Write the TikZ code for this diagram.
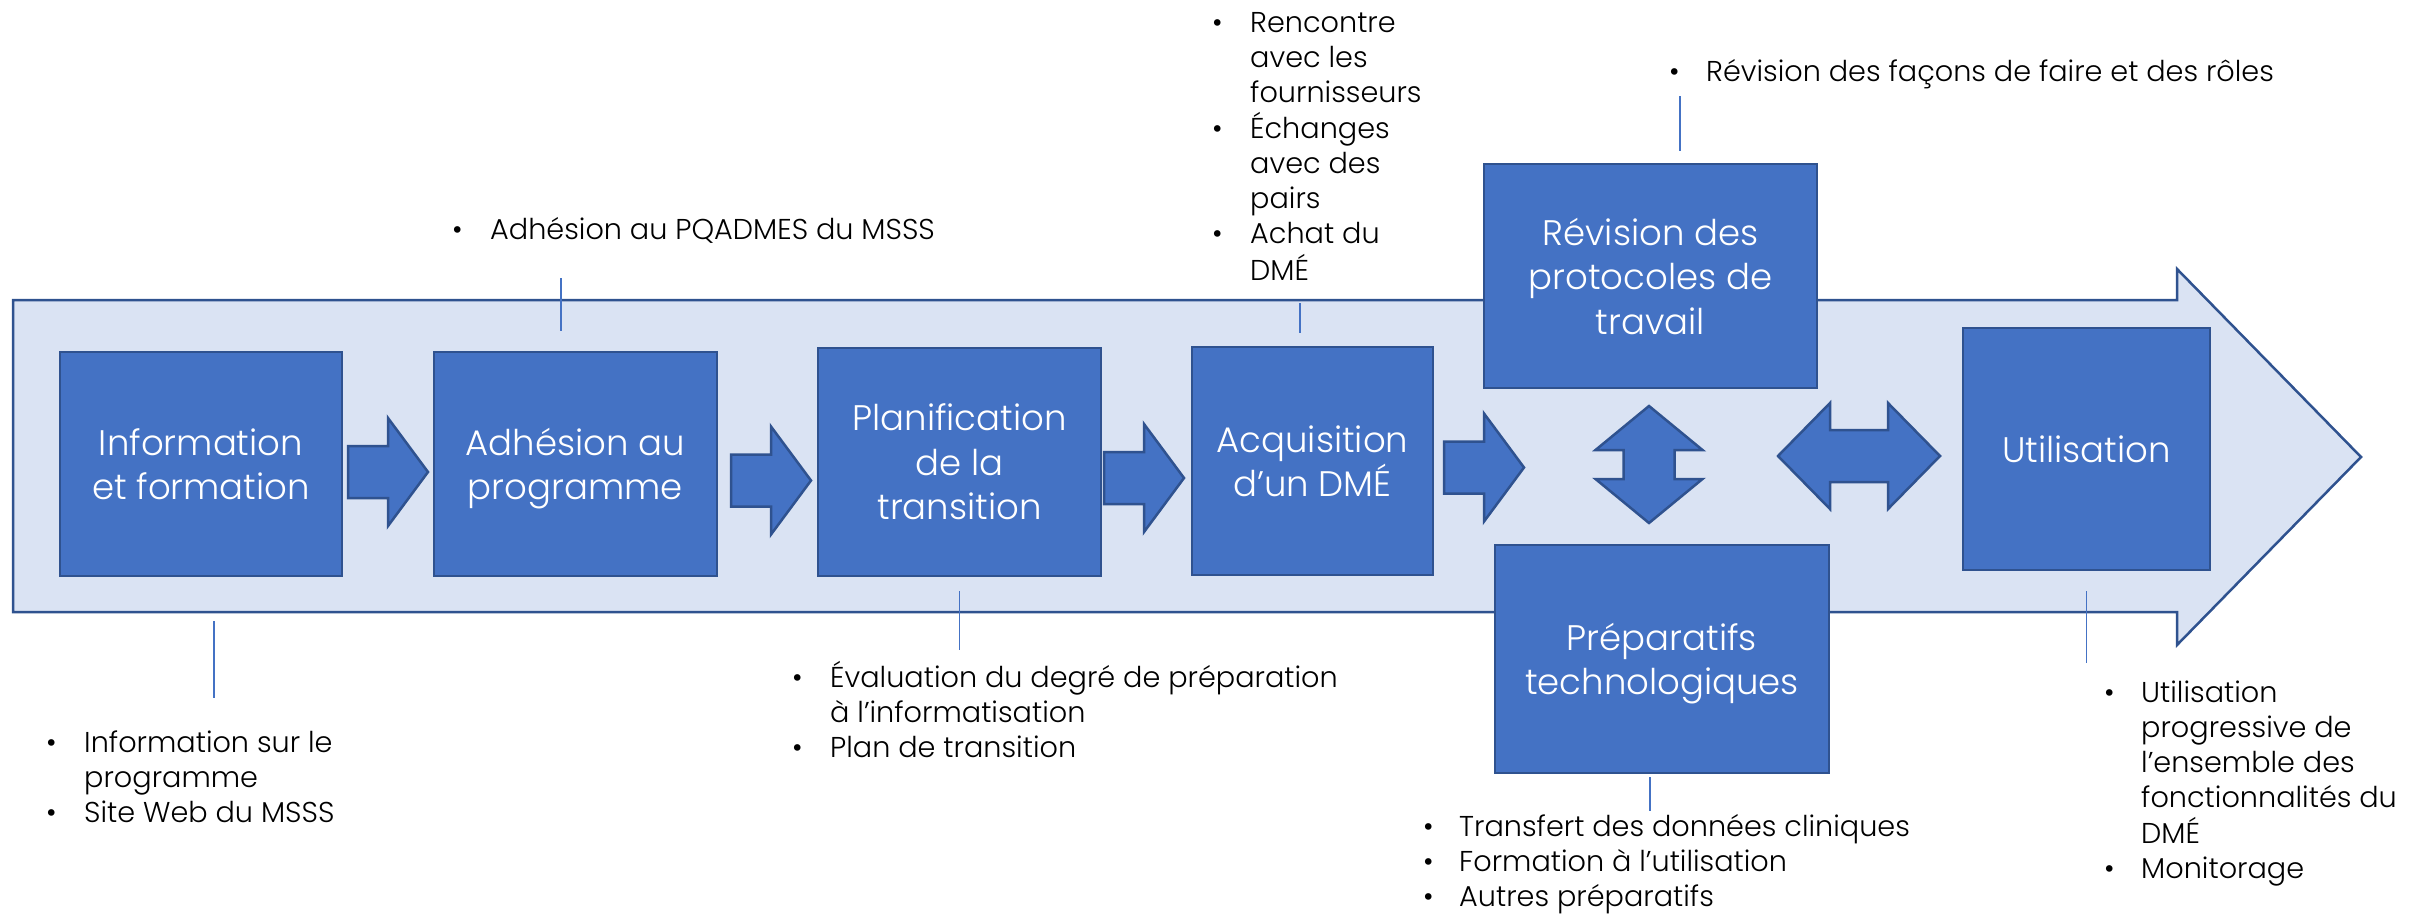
\documentclass[tikz,border=0pt]{standalone}
\usepackage{fontspec}
\setmainfont{Poppins}[UprightFont={* Light}]

\definecolor{boxblue}{HTML}{4472C4}
\definecolor{edgeblue}{HTML}{2F528F}
\definecolor{bandblue}{HTML}{DAE3F3}

\begin{document}
\begin{tikzpicture}[x=1pt, y=-1pt,
  stage/.style = {shape=rectangle, draw=edgeblue, line width=2.5pt,
    fill=boxblue, text=white, align=center, inner sep=0pt, text depth=0pt,
    font=\fontsize{35.5}{44.5}\selectfont},
  note/.style = {anchor=base west, inner sep=0pt,
    font=\fontsize{28.7}{35}\selectfont},
  callout/.style = {draw=boxblue, line width=1.5pt},
  blockarrow/.style = {draw=edgeblue, line width=2.5pt, fill=boxblue},
  fwd/.pic = {\path[blockarrow] (0,-26) -- (40,-26) -- (40,-54) -- (80,0)
    -- (40,54) -- (40,26) -- (0,26) -- cycle;},
  updown/.pic = {\path[blockarrow] (0,-58.5) -- (53.5,-14.5) -- (25.5,-14.5)
    -- (25.5,14.5) -- (53.5,14.5) -- (0,58.5) -- (-53.5,14.5) -- (-25.5,14.5)
    -- (-25.5,-14.5) -- (-53.5,-14.5) -- cycle;},
  leftright/.pic = {\path[blockarrow] (-81,0) -- (-29,-53) -- (-29,-26)
    -- (29,-26) -- (29,-53) -- (81,0) -- (29,53) -- (29,26) -- (-29,26)
    -- (-29,53) -- cycle;}]
  \useasboundingbox (0,0) rectangle (2412,913);

  % the long band
  \path[draw=edgeblue, line width=2.5pt, fill=bandblue]
    (13,300) -- (2177,300) -- (2177,269) -- (2361,457) -- (2177,645)
    -- (2177,612) -- (13,612) -- cycle;

  % stages
  \node[stage, minimum width=282pt, minimum height=224pt] (info) at (201,464)
    {Information\\et formation};
  \node[stage, minimum width=283pt, minimum height=224pt] (adh) at (575.5,464)
    {Adhésion au\\programme};
  \node[stage, minimum width=283pt, minimum height=228pt] (plan) at (959.5,462)
    {Planification\\de la\\transition};
  \node[stage, minimum width=241pt, minimum height=228pt] (acq) at (1312.5,461)
    {Acquisition\\d’un DMÉ};
  \node[stage, minimum width=333pt, minimum height=224pt] (rev) at (1650.5,276)
    {Révision des\\protocoles de\\travail};
  \node[stage, minimum width=334pt, minimum height=228pt] (prep) at (1662,659)
    {Préparatifs\\technologiques};
  \node[stage, minimum width=247pt, minimum height=242pt] (util) at (2086.5,449)
    {Utilisation};

  % block arrows
  \pic at (348,472) {fwd};
  \pic at (731,480.5) {fwd};
  \pic at (1104,478) {fwd};
  \pic at (1444,467.5) {fwd};
  \pic at (1649,464.5) {updown};
  \pic at (1859,456) {leftright};

  % notes
  \node[note] (adhnote) at (452,239) {\begin{tabular}[t]{@{}p{38pt}@{}l@{}}
    \textbullet & Adhésion au PQADMES du MSSS\end{tabular}};
  \node[note] (acqnote) at (1212,32) {\begin{tabular}[t]{@{}p{38pt}@{}l@{}}
    \textbullet & Rencontre\\ & avec les\\ & fournisseurs\\
    \textbullet & Échanges\\ & avec des\\ & pairs\\
    \textbullet & Achat du\\ & DMÉ\end{tabular}};
  \node[note] (revnote) at (1669,81) {\begin{tabular}[t]{@{}p{37pt}@{}l@{}}
    \textbullet & Révision des façons de faire et des rôles\end{tabular}};
  \node[note] (infonote) at (46,752) {\begin{tabular}[t]{@{}p{38pt}@{}l@{}}
    \textbullet & Information sur le\\ & programme\\
    \textbullet & Site Web du MSSS\end{tabular}};
  \node[note] (plannote) at (792,687) {\begin{tabular}[t]{@{}p{38pt}@{}l@{}}
    \textbullet & Évaluation du degré de préparation\\
    & à l’informatisation\\
    \textbullet & Plan de transition\end{tabular}};
  \node[note] (prepnote) at (1423,836) {\begin{tabular}[t]{@{}p{36pt}@{}l@{}}
    \textbullet & Transfert des données cliniques\\
    \textbullet & Formation à l’utilisation\\
    \textbullet & Autres préparatifs\end{tabular}};
  \node[note] (utilnote) at (2104,702) {\begin{tabular}[t]{@{}p{37pt}@{}l@{}}
    \textbullet & Utilisation\\ & progressive de\\ & l’ensemble des\\
    & fonctionnalités du\\ & DMÉ\\
    \textbullet & Monitorage\end{tabular}};

  % callout lines
  \draw[callout] ([xshift=-14.5pt, yshift=20pt]adh.north) -- ++(0,-53);
  \draw[callout] ([xshift=13pt, yshift=-44pt]info.south) -- ++(0,77);
  \draw[callout] ([yshift=-14pt]plan.south) -- ++(0,59);
  \draw[callout] ([xshift=-12.5pt, yshift=13pt]acq.north) -- ++(0,-30);
  \draw[callout] ([xshift=29.5pt, yshift=12pt]rev.north) -- ++(0,-55);
  \draw[callout] ([xshift=-12pt, yshift=-3pt]prep.south) -- ++(0,34);
  \draw[callout] ([yshift=-20pt]util.south) -- ++(0,72);
\end{tikzpicture}
\end{document}
